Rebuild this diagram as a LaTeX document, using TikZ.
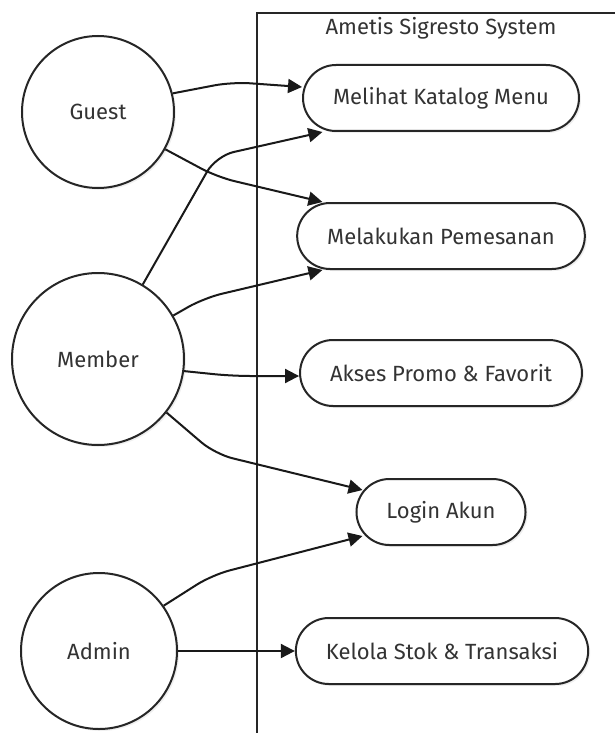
\documentclass[tikz,border=0pt]{standalone}
\usepackage{fontspec}
\setmainfont{Fira Sans}
\usetikzlibrary{arrows.meta}
\usetikzlibrary{positioning}
\usetikzlibrary{shadows}
\tikzset{actor/.style = {draw=black!85, line width=2pt, circle, fill=white, inner sep=0, text=black!80, drop shadow={opacity=0.12, shadow xshift=2pt, shadow yshift=-2pt}}}
\tikzset{usecase/.style = {draw=black!85, line width=2pt, rectangle, rounded corners=33pt, minimum height=66pt, inner xsep=30pt, fill=white, text=black!80, drop shadow={opacity=0.12, shadow xshift=2pt, shadow yshift=-2pt}}}
\tikzset{arr/.style = {draw=black!90, line width=2pt, -{Triangle[length=14pt,width=14pt]}, rounded corners=18pt}}

\begin{document}
\begin{tikzpicture}[x=1pt, y=-1pt, font=\fontsize{22}{26}\selectfont]
            \useasboundingbox (0,0) rectangle (615,733);
            \clip (0,0) rectangle (615,733);
            \fill [white] (0,0) rectangle (615,733);
            \draw [line width=2pt, draw=black!85] (640,13) -- (257,13) -- (257,760);
            \node [text=black!80] (titel) at (441,28) {Ametis Sigresto System};
            \node [actor, minimum size=152pt] (guest) at (98,112) {Guest};
            \node [actor, minimum size=172pt] (member) at (98,359) {Member};
            \node [actor, minimum size=156pt] (admin) at (99,651) {Admin};
            \node [usecase] (melihat) at (441,98) {Melihat Katalog Menu};
            \node [usecase] (pesan) at (441,236) {Melakukan Pemesanan};
            \node [usecase] (promo) at (441,373) {Akses Promo \& Favorit};
            \node [usecase] (login) at (441,512) {Login Akun};
            \node [usecase] (kelola) at (442,651) {Kelola Stok \& Transaksi};
            \draw [arr] (guest.14) -- (232,82) -- ([yshift=11pt]melihat.west);
            \draw [arr] (member.59) -- (216,156) -- (melihat.196);
            \draw [arr] (guest.-29) -- (217,177) -- (pesan.164);
            \draw [arr] (member.30) -- (204,298) -- (pesan.196);
            \draw [arr] (member.-8) -- (232,376) -- ([yshift=-3pt]promo.west);
            \draw [arr] (member.-38) -- (215,454) -- ([shift={(7pt,22pt)}]login.west);
            \draw [arr] (admin.35) -- (212,575) -- ([shift={(7pt,-24pt)}]login.west);
            \draw [arr] (admin.east) -- (kelola.west);
        \end{tikzpicture}
\end{document}
